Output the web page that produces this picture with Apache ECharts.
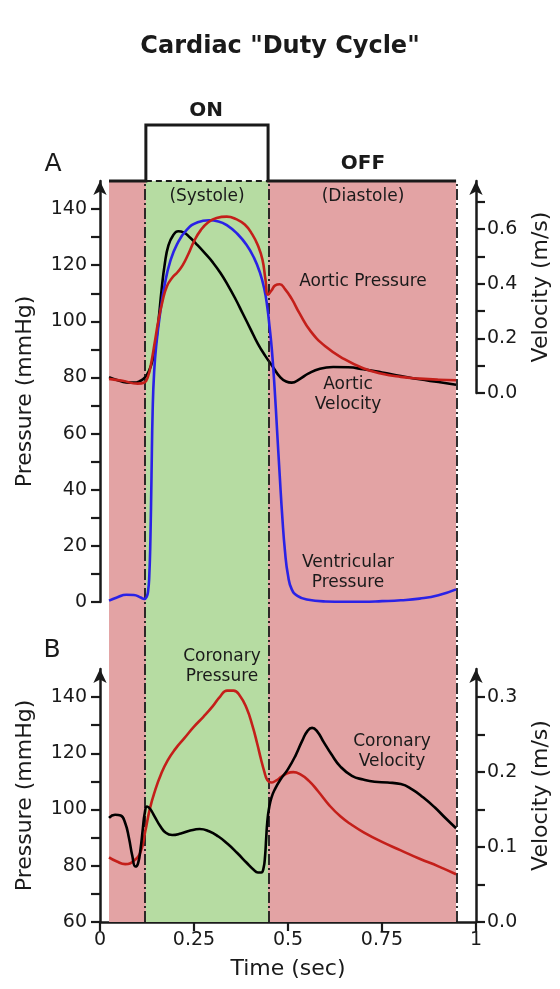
<!DOCTYPE html>
<html>
<head>
<meta charset="utf-8">
<script src="https://cdn.jsdelivr.net/npm/echarts/dist/echarts.min.js"></script>
<style>
  html, body { margin: 0; padding: 0; background: #fff; }
  #chart { width: 560px; height: 989px; }
</style>
</head>
<body>
<div id="chart"></div>
<script>
// ---- Cardiac cycle timing (sec) ----
const cycleStart = 0.024;
const systoleStart = 0.122;
const systoleEnd = 0.447;
const cycleEnd = 0.947;

// Duty cycle square wave: 0 = OFF (diastole), 1 = ON (systole)
const dutyTime = [0.024, 0.122, 0.122, 0.447, 0.447, 0.947];
const dutyLevel = [0, 0, 1, 1, 0, 0];

// ---- Panel A: aortic pressure (mmHg) ----
const aorticPressureTime = [0.024, 0.06, 0.1, 0.118, 0.128, 0.136, 0.145, 0.155, 0.166, 0.178, 0.192, 0.206, 0.22, 0.235, 0.25, 0.268, 0.288, 0.31, 0.337, 0.362, 0.385, 0.405, 0.42, 0.432, 0.44, 0.447, 0.456, 0.466, 0.478, 0.492, 0.51, 0.53, 0.56, 0.6, 0.65, 0.7, 0.75, 0.8, 0.85, 0.9, 0.947];
const aorticPressure = [79.5, 78.8, 77.8, 78.2, 80.5, 85, 92, 100, 107, 112.5, 115.5, 117.5, 120, 124, 128.5, 132.5, 135.3, 136.8, 137.3, 136.4, 134.5, 131, 127, 122, 115, 109.5, 111, 112.8, 113.2, 111.5, 108, 103, 96.5, 91, 86.5, 83.3, 81.3, 80.2, 79.6, 79.2, 79];

// ---- Panel A: ventricular pressure (mmHg) ----
const ventricularTime = [0.024, 0.045, 0.07, 0.09, 0.108, 0.118, 0.124, 0.128, 0.131, 0.134, 0.137, 0.14, 0.144, 0.15, 0.16, 0.172, 0.186, 0.205, 0.23, 0.26, 0.29, 0.315, 0.34, 0.365, 0.39, 0.41, 0.425, 0.437, 0.445, 0.451, 0.457, 0.464, 0.471, 0.478, 0.485, 0.492, 0.5, 0.51, 0.525, 0.55, 0.6, 0.65, 0.7, 0.75, 0.8, 0.85, 0.9, 0.947];
const ventricularPressure = [0.5, 1.6, 2.6, 2.5, 1.6, 1.1, 1.8, 4, 9, 22, 45, 68, 82, 92, 103, 113, 121, 127.5, 132.5, 135.3, 136, 135.6, 134, 131.2, 127.2, 122.5, 117.5, 111.5, 105, 98, 90, 77, 61, 45, 30, 18, 9.5, 4.5, 2.2, 0.9, 0.2, 0.1, 0.1, 0.3, 0.6, 1.2, 2.4, 4.5];

// ---- Panel A: aortic velocity (m/s) ----
const aorticVelocityTime = [0.024, 0.045, 0.07, 0.09, 0.108, 0.12, 0.13, 0.14, 0.148, 0.156, 0.164, 0.172, 0.182, 0.195, 0.208, 0.222, 0.24, 0.26, 0.28, 0.3, 0.32, 0.34, 0.36, 0.38, 0.4, 0.42, 0.44, 0.46, 0.478, 0.495, 0.51, 0.53, 0.555, 0.585, 0.62, 0.66, 0.7, 0.75, 0.8, 0.85, 0.9, 0.947];
const aorticVelocity = [0.058, 0.048, 0.039, 0.038, 0.045, 0.058, 0.08, 0.12, 0.18, 0.27, 0.38, 0.47, 0.54, 0.578, 0.592, 0.588, 0.568, 0.54, 0.51, 0.478, 0.44, 0.395, 0.345, 0.29, 0.235, 0.18, 0.135, 0.095, 0.06, 0.042, 0.038, 0.05, 0.072, 0.089, 0.095, 0.094, 0.087, 0.075, 0.062, 0.05, 0.04, 0.03];

// ---- Panel B: coronary pressure (mmHg) ----
const coronaryPressureTime = [0.024, 0.045, 0.067, 0.09, 0.108, 0.12, 0.133, 0.147, 0.162, 0.18, 0.2, 0.225, 0.25, 0.275, 0.3, 0.32, 0.338, 0.355, 0.372, 0.39, 0.405, 0.418, 0.428, 0.437, 0.445, 0.455, 0.468, 0.482, 0.498, 0.514, 0.532, 0.555, 0.58, 0.61, 0.64, 0.67, 0.7, 0.75, 0.8, 0.85, 0.9, 0.947];
const coronaryPressure = [83, 81.5, 80.6, 81.8, 85, 92, 100.5, 107, 112.5, 117.5, 121.5, 125.5, 129.5, 133, 136.8, 140.3, 142.3, 142.3, 140.5, 136, 130, 123.5, 118, 113.5, 110.5, 109.6, 110.3, 111.6, 112.9, 113.3, 112.6, 110.3, 106.5, 101.5, 97.5, 94.5, 92, 88.5, 85.5, 82.5, 79.8, 77];

// ---- Panel B: coronary velocity (m/s) ----
const coronaryVelocityTime = [0.024, 0.04, 0.055, 0.067, 0.077, 0.086, 0.094, 0.101, 0.108, 0.114, 0.119, 0.125, 0.133, 0.145, 0.16, 0.175, 0.192, 0.215, 0.24, 0.265, 0.29, 0.315, 0.34, 0.365, 0.39, 0.408, 0.42, 0.429, 0.435, 0.439, 0.442, 0.445, 0.449, 0.456, 0.466, 0.48, 0.5, 0.52, 0.538, 0.552, 0.564, 0.578, 0.595, 0.615, 0.64, 0.67, 0.7, 0.73, 0.765, 0.8, 0.83, 0.86, 0.89, 0.92, 0.947];
const coronaryVelocity = [0.139, 0.143, 0.142, 0.132, 0.112, 0.088, 0.074, 0.078, 0.098, 0.125, 0.145, 0.154, 0.151, 0.141, 0.128, 0.119, 0.116, 0.118, 0.122, 0.124, 0.121, 0.114, 0.104, 0.092, 0.079, 0.07, 0.066, 0.066, 0.072, 0.088, 0.112, 0.134, 0.15, 0.166, 0.178, 0.19, 0.204, 0.222, 0.242, 0.255, 0.259, 0.254, 0.24, 0.224, 0.207, 0.195, 0.19, 0.187, 0.186, 0.184, 0.177, 0.166, 0.153, 0.138, 0.125];

// ---- Axis ticks and labels ----
const timeTicks = [0, 0.25, 0.5, 0.75, 1];
const pressureATicks = [0, 10, 20, 30, 40, 50, 60, 70, 80, 90, 100, 110, 120, 130, 140];
const pressureALabels = [0, 20, 40, 60, 80, 100, 120, 140];
const velocityATicks = [0, 0.1, 0.2, 0.3, 0.4, 0.5, 0.6, 0.7];
const velocityALabels = [0, 0.2, 0.4, 0.6];
const pressureBTicks = [60, 70, 80, 90, 100, 110, 120, 130, 140];
const pressureBLabels = [60, 80, 100, 120, 140];
const velocityBTicks = [0, 0.05, 0.1, 0.15, 0.2, 0.25, 0.3];
const velocityBLabels = [0, 0.1, 0.2, 0.3];

const FONT = 'DejaVu Sans';
const INK = '#1a1a1a';
const PINK = '#e3a3a4';
const GREEN = '#b6dca2';
const RED = '#c41f1a';
const BLUE = '#2a22e6';

const zip = (xs, ys) => xs.map((x, i) => [x, ys[i]]);

// shared horizontal geometry of every plot area
const L = 100, R = 84;

const hiddenX = (gi) => ({ gridIndex: gi, type: 'value', min: 0, max: 1, show: false });
const hiddenY = (gi, min, max) => ({ gridIndex: gi, type: 'value', min, max, show: false });

const axisLine = {
  show: true, onZero: false,
  lineStyle: { color: INK, width: 2.5 },
  symbol: ['none', 'arrow'], symbolSize: [10, 14], symbolOffset: [0, 0]
};
const axisTick = (vals) => ({ show: true, length: 9, lineStyle: { color: INK, width: 2.2 }, customValues: vals });
const axisLabel = (vals, fmt, margin) => ({ show: true, customValues: vals, color: INK, fontFamily: FONT, fontSize: 19, margin, formatter: fmt });
const axisName = { color: INK, fontFamily: FONT, fontSize: 22 };

const curve = (name, xi, yi, data, color, z) => ({
  name, type: 'line', xAxisIndex: xi, yAxisIndex: yi, data,
  showSymbol: false, smooth: 0.5, clip: false, z,
  lineStyle: { color, width: 2.6 }
});

const option = {
  animation: false,
  backgroundColor: '#ffffff',
  title: {
    text: 'Cardiac "Duty Cycle"', left: 'center', top: 30,
    textStyle: { fontFamily: FONT, fontSize: 24, fontWeight: 'bold', color: INK }
  },
  grid: [
    { left: L, right: R, top: 125, height: 56 },        // duty cycle wave
    { left: L, right: R, top: 181, bottom: 989 - 922 }, // phase shading (both panels)
    { left: L, right: R, top: 181, bottom: 989 - 602 }, // panel A pressure
    { left: L, right: R, top: 181, bottom: 989 - 393 }, // panel A velocity
    { left: L, right: R, top: 669, bottom: 989 - 922 }  // panel B
  ],
  xAxis: [
    hiddenX(0), hiddenX(1), hiddenX(2), hiddenX(3),
    {
      gridIndex: 4, type: 'value', min: 0, max: 1,
      axisLine: { show: true, onZero: false, lineStyle: { color: INK, width: 2.5 } },
      axisTick: axisTick(timeTicks),
      axisLabel: axisLabel(timeTicks, (v) => String(v), 9),
      splitLine: { show: false },
      name: 'Time (sec)', nameLocation: 'middle', nameGap: 36, nameTextStyle: axisName
    }
  ],
  yAxis: [
    hiddenY(0, 0, 1),
    hiddenY(1, 0, 1),
    {
      gridIndex: 2, type: 'value', min: 0, max: 150, position: 'left',
      axisLine, axisTick: axisTick(pressureATicks),
      axisLabel: axisLabel(pressureALabels, (v) => String(v), 13),
      splitLine: { show: false },
      name: 'Pressure (mmHg)', nameLocation: 'middle', nameGap: 64, nameRotate: 90, nameTextStyle: axisName
    },
    {
      gridIndex: 3, type: 'value', min: 0, max: 0.776, position: 'right',
      axisLine, axisTick: axisTick(velocityATicks),
      axisLabel: axisLabel(velocityALabels, (v) => v.toFixed(1), 11),
      splitLine: { show: false },
      name: 'Velocity (m/s)', nameLocation: 'middle', nameGap: 54, nameRotate: 90, nameTextStyle: axisName
    },
    {
      gridIndex: 4, type: 'value', min: 60, max: 150, position: 'left',
      axisLine, axisTick: axisTick(pressureBTicks),
      axisLabel: axisLabel(pressureBLabels, (v) => String(v), 13),
      splitLine: { show: false },
      name: 'Pressure (mmHg)', nameLocation: 'middle', nameGap: 64, nameRotate: 90, nameTextStyle: axisName
    },
    {
      gridIndex: 4, type: 'value', min: 0, max: 0.3375, position: 'right',
      axisLine, axisTick: axisTick(velocityBTicks),
      axisLabel: axisLabel(velocityBLabels, (v) => v.toFixed(1), 11),
      splitLine: { show: false },
      name: 'Velocity (m/s)', nameLocation: 'middle', nameGap: 54, nameRotate: 90, nameTextStyle: axisName
    }
  ],
  series: [
    // diastole / systole shading and phase boundaries
    {
      name: 'phases', type: 'line', xAxisIndex: 1, yAxisIndex: 1, data: [], z: 0,
      markArea: {
        silent: true,
        data: [
          [{ xAxis: cycleStart, itemStyle: { color: PINK } }, { xAxis: systoleStart }],
          [{ xAxis: systoleStart, itemStyle: { color: GREEN } }, { xAxis: systoleEnd }],
          [{ xAxis: systoleEnd, itemStyle: { color: PINK } }, { xAxis: cycleEnd }]
        ]
      },
      markLine: {
        silent: true, symbol: ['none', 'none'], label: { show: false },
        lineStyle: { color: INK, width: 1.8, type: [11, 3, 2, 3] },
        data: [{ xAxis: systoleStart }, { xAxis: systoleEnd }, { xAxis: cycleEnd }]
      }
    },
    // duty cycle square wave
    {
      name: 'duty', type: 'line', xAxisIndex: 0, yAxisIndex: 0, z: 3, clip: false,
      data: zip(dutyTime, dutyLevel), showSymbol: false,
      lineStyle: { color: INK, width: 3, join: 'miter' }
    },
    {
      name: 'dutyBase', type: 'line', xAxisIndex: 0, yAxisIndex: 0, z: 3, clip: false,
      data: [[systoleStart, 0], [systoleEnd, 0]], showSymbol: false,
      lineStyle: { color: INK, width: 2.2, type: [6, 4] }
    },
    curve('Aortic Velocity', 3, 3, zip(aorticVelocityTime, aorticVelocity), '#000000', 4),
    curve('Ventricular Pressure', 2, 2, zip(ventricularTime, ventricularPressure), BLUE, 5),
    curve('Aortic Pressure', 2, 2, zip(aorticPressureTime, aorticPressure), RED, 6),
    curve('Coronary Pressure', 4, 4, zip(coronaryPressureTime, coronaryPressure), RED, 5),
    curve('Coronary Velocity', 4, 5, zip(coronaryVelocityTime, coronaryVelocity), '#000000', 6)
  ],
  graphic: []
};

const txt = (text, x, y, size, weight) => ({
  type: 'text', x, y, z: 20,
  style: {
    text, fill: INK, font: (weight || 'normal') + ' ' + size + 'px "' + FONT + '"',
    align: 'center', verticalAlign: 'middle', lineHeight: Math.round(size * 1.15)
  }
});

option.graphic = [
  txt('ON', 206, 111, 20, 'bold'),
  txt('OFF', 363, 164, 20, 'bold'),
  txt('A', 53, 164, 25),
  txt('B', 52, 650, 25),
  txt('(Systole)', 207, 197, 17),
  txt('(Diastole)', 363, 197, 17),
  txt('Aortic Pressure', 363, 282, 17),
  txt('Aortic\nVelocity', 348, 395, 17),
  txt('Ventricular\nPressure', 348, 573, 17),
  txt('Coronary\nPressure', 222, 667, 17),
  txt('Coronary\nVelocity', 392, 752, 17)
];

const chart = echarts.init(document.getElementById('chart'), null, { renderer: 'canvas' });
chart.setOption(option);
</script>
</body>
</html>
